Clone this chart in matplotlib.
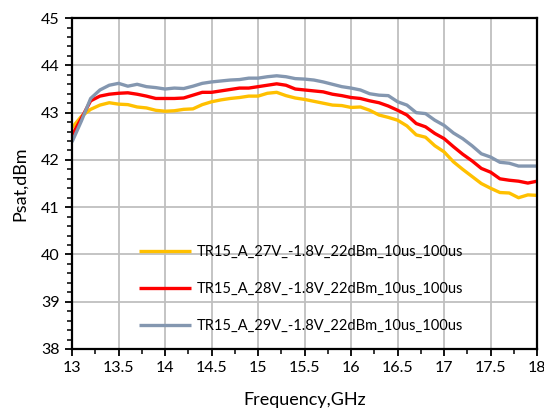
import numpy as np
import matplotlib
matplotlib.use("Agg")
import matplotlib.pyplot as plt
from matplotlib.ticker import MultipleLocator

plt.rcParams['font.family'] = ['Lato', 'DejaVu Sans']

# frequency sweep, GHz
freq = np.round(np.arange(13.0, 18.01, 0.1), 1)

psat_27v = [42.68, 42.92, 43.07, 43.16, 43.21, 43.18, 43.17, 43.12, 43.10, 43.05,
            43.03, 43.04, 43.07, 43.08, 43.17, 43.23, 43.27, 43.30, 43.32, 43.35,
            43.35, 43.41, 43.43, 43.36, 43.31, 43.28, 43.24, 43.20, 43.16, 43.15,
            43.11, 43.12, 43.05, 42.95, 42.90, 42.84, 42.72, 42.53, 42.48, 42.30,
            42.17, 41.96, 41.80, 41.65, 41.50, 41.40, 41.31, 41.30, 41.20, 41.26,
            41.25]
psat_28v = [42.52, 42.88, 43.25, 43.35, 43.39, 43.41, 43.42, 43.39, 43.35, 43.30,
            43.30, 43.30, 43.31, 43.37, 43.43, 43.43, 43.46, 43.49, 43.52, 43.52,
            43.55, 43.58, 43.61, 43.58, 43.50, 43.48, 43.46, 43.44, 43.39, 43.36,
            43.32, 43.30, 43.25, 43.21, 43.14, 43.05, 42.95, 42.77, 42.70, 42.56,
            42.45, 42.28, 42.12, 41.98, 41.82, 41.74, 41.60, 41.57, 41.55, 41.51,
            41.55]
psat_29v = [42.38, 42.82, 43.30, 43.48, 43.58, 43.62, 43.56, 43.60, 43.55, 43.53,
            43.50, 43.52, 43.51, 43.56, 43.62, 43.65, 43.67, 43.69, 43.70, 43.73,
            43.73, 43.76, 43.78, 43.76, 43.72, 43.71, 43.69, 43.65, 43.60, 43.55,
            43.52, 43.48, 43.40, 43.37, 43.36, 43.23, 43.16, 43.00, 42.98, 42.84,
            42.73, 42.57, 42.45, 42.30, 42.13, 42.06, 41.95, 41.93, 41.87, 41.87,
            41.87]

labels = ["TR15_A_27V_-1.8V_22dBm_10us_100us",
          "TR15_A_28V_-1.8V_22dBm_10us_100us",
          "TR15_A_29V_-1.8V_22dBm_10us_100us"]
colors = ["#FFC000", "#FF0000", "#8497B0"]

fig = plt.figure(figsize=(5.44, 4.12), dpi=100)
ax = fig.add_axes([0.1324, 0.153, 0.855, 0.803])

for ys, lab, c in zip([psat_27v, psat_28v, psat_29v], labels, colors):
    ax.plot(freq, ys, color=c, lw=2.4, label=lab, solid_capstyle='butt')

ax.set_xlim(13, 18)
ax.set_ylim(38, 45)
xt = np.arange(13, 18.01, 0.5)
ax.set_xticks(xt)
ax.set_xticklabels([f"{v:g}" for v in xt])
ax.xaxis.set_minor_locator(MultipleLocator(0.25))
ax.yaxis.set_major_locator(MultipleLocator(1))
ax.yaxis.set_minor_locator(MultipleLocator(0.2))

ax.grid(True, which='major', color='#BFBFBF', lw=1.3)
ax.set_axisbelow(True)
for s in ax.spines.values():
    s.set_linewidth(1.6)
    s.set_color('black')

ax.tick_params(which='major', direction='out', length=5, width=1.3, labelsize=11.5, pad=4)
ax.tick_params(which='minor', direction='out', length=3.5, width=1.1)

ax.set_xlabel("Frequency,GHz", fontsize=13, labelpad=12)
ax.set_ylabel("Psat,dBm", fontsize=13, labelpad=9)

ax.legend(loc='upper left', bbox_to_anchor=(0.115, 0.355), frameon=False,
          fontsize=10.5, handlelength=3.6, handletextpad=0.4, labelspacing=1.6)

fig.savefig("out.png", dpi=100)
